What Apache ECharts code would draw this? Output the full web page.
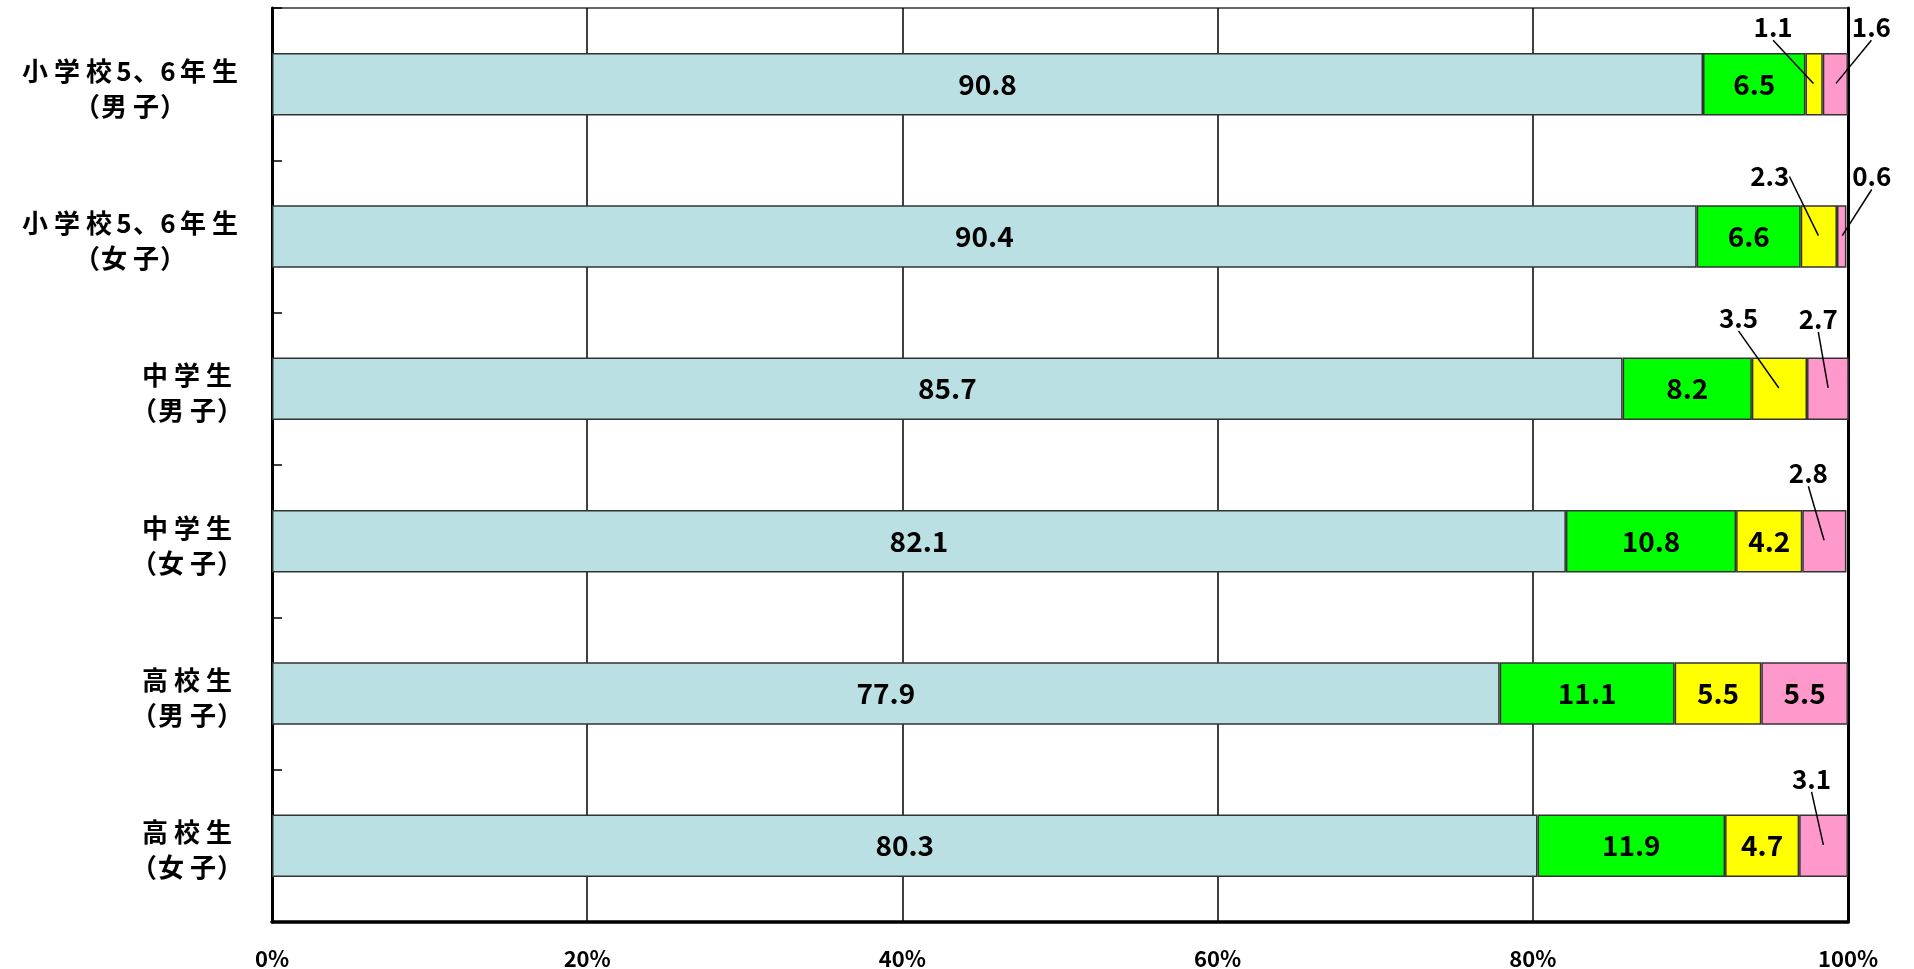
<!DOCTYPE html>
<html>
<head>
<meta charset="UTF-8">
<title>帯グラフ</title>
<script src="https://cdn.jsdelivr.net/npm/echarts@6/dist/echarts.min.js"></script>
<style>
  html, body { margin: 0; padding: 0; background: #fff; }
  #main { width: 1914px; height: 969px; }
</style>
</head>
<body>
<div id="main"></div>
<script type="text/javascript">
    // カテゴリ（上から順）
    var categories = ['小学校5、6年生\n（男子）', '小学校5、6年生\n（女子）', '中学生\n（男子）', '中学生\n（女子）', '高校生\n（男子）', '高校生\n（女子）'];
    // 各区分の割合(%)
    var seg1 = [90.8, 90.4, 85.7, 82.1, 77.9, 80.3];
    var seg2 = [6.5, 6.6, 8.2, 10.8, 11.1, 11.9];
    var seg3 = [1.1, 2.3, 3.5, 4.2, 5.5, 4.7];
    var seg4 = [1.6, 0.6, 2.7, 2.8, 5.5, 3.1];
    var xTicks = [0, 20, 40, 60, 80, 100];

    var colors = ['#bbe0e3', '#00ff00', '#ffff00', '#ff99cc'];
    var fontCJK = '"Noto Sans CJK JP", "Noto Sans", sans-serif';

    // 棒の外に出すラベルのずらし量 [dx, dy]（系列番号-行番号）
    var outside = {
        '2-0': [-41, -57], '3-0': [36, -57],
        '2-1': [-49, -60], '3-1': [30, -60],
        '2-2': [-41, -71], '3-2': [-10, -70],
        '3-3': [-16, -68],
        '3-5': [-12, -67]
    };

    var segs = [seg1, seg2, seg3, seg4];

    // 引き出し線用の点（各区分の中央）
    var calloutData = [];
    segs.forEach(function (vals, si) {
        vals.forEach(function (v, i) {
            if (!outside[si + '-' + i]) return;
            var start = 0;
            for (var k = 0; k < si; k++) start += segs[k][i];
            calloutData.push({ value: [start + v / 2, i, v, si] });
        });
    });

    var myChart = echarts.init(document.getElementById('main'));

    var series = segs.map(function (vals, si) {
        return {
            type: 'bar',
            stack: 'total',
            barWidth: '41%',
            data: vals,
            itemStyle: { color: colors[si], borderColor: '#333', borderWidth: 1.5 },
            label: {
                show: true,
                position: 'inside',
                color: '#000',
                fontFamily: fontCJK,
                fontWeight: 'bold',
                fontSize: 28,
                formatter: function (p) {
                    return outside[p.seriesIndex + '-' + p.dataIndex] ? '' : p.value.toFixed(1);
                }
            },
            emphasis: { disabled: true },
            z: 2
        };
    });

    series.push({
        type: 'scatter',
        data: calloutData,
        symbolSize: 2,
        itemStyle: { color: 'rgba(0,0,0,0)' },
        label: {
            show: true,
            position: 'inside',
            color: '#000',
            opacity: 1,
            textBorderWidth: 0,
            fontFamily: fontCJK,
            fontWeight: 'bold',
            fontSize: 26,
            formatter: function (p) { return p.value[2].toFixed(1); }
        },
        labelLine: { show: true, lineStyle: { color: '#000', width: 1.5, opacity: 1 } },
        labelLayout: function (params) {
            var d = calloutData[params.dataIndex].value;
            var o = outside[d[3] + '-' + d[1]];
            return { dx: o[0], dy: o[1] };
        },
        emphasis: { disabled: true },
        z: 5
    });

    // 一文字ずつ幅をとって字間を広げる
    function spaced(line) {
        return Array.from(line).map(function (ch) {
            var key = /[0-9A-Za-z]/.test(ch) ? 'h' : (/[（）]/.test(ch) ? 'p' : (ch === '、' ? 'm' : 'f'));
            return '{' + key + '|' + ch + '}';
        }).join('');
    }

    var labelFont = { align: 'center', color: '#000', fontFamily: fontCJK, fontWeight: 'bold', fontSize: 26, lineHeight: 35 };

    var option = {
        animation: false,
        backgroundColor: '#fff',
        grid: {
            left: 272, right: 66, top: 8, bottom: 47,
            show: true, borderColor: '#666', borderWidth: 2,
            outerBoundsMode: 'none'
        },
        xAxis: {
            type: 'value',
            min: 0, max: 100, interval: 20,
            axisLine: { show: true, lineStyle: { color: '#000', width: 3.5 } },
            axisTick: { show: false },
            splitLine: { show: true, lineStyle: { color: '#000', width: 1.5 } },
            axisLabel: {
                margin: 26,
                color: '#000',
                fontFamily: fontCJK,
                fontWeight: 'bold',
                fontSize: 22,
                formatter: function (v) { return xTicks.indexOf(v) >= 0 ? v + '%' : ''; }
            }
        },
        yAxis: [{
            type: 'category',
            inverse: true,
            data: categories,
            axisLine: { show: true, lineStyle: { color: '#000', width: 3 } },
            axisTick: { show: true, inside: true, length: 10, lineStyle: { color: '#000', width: 1.5 } },
            axisLabel: {
                margin: 31,
                padding: [8, 0, 0, 0],
                formatter: function (v) {
                    return v.split('\n').map(spaced).join('\n');
                },
                rich: {
                    f: Object.assign({ width: 32 }, labelFont),
                    m: Object.assign({ width: 26 }, labelFont),
                    h: Object.assign({ width: 18 }, labelFont),
                    p: Object.assign({ width: 22 }, labelFont)
                }
            }
        }, {
            type: 'category',
            position: 'right',
            inverse: true,
            data: categories,
            axisLine: { show: true, lineStyle: { color: '#000', width: 3 } },
            axisTick: { show: false },
            axisLabel: { show: false }
        }],
        series: series
    };

    myChart.setOption(option);
</script>
</body>
</html>
